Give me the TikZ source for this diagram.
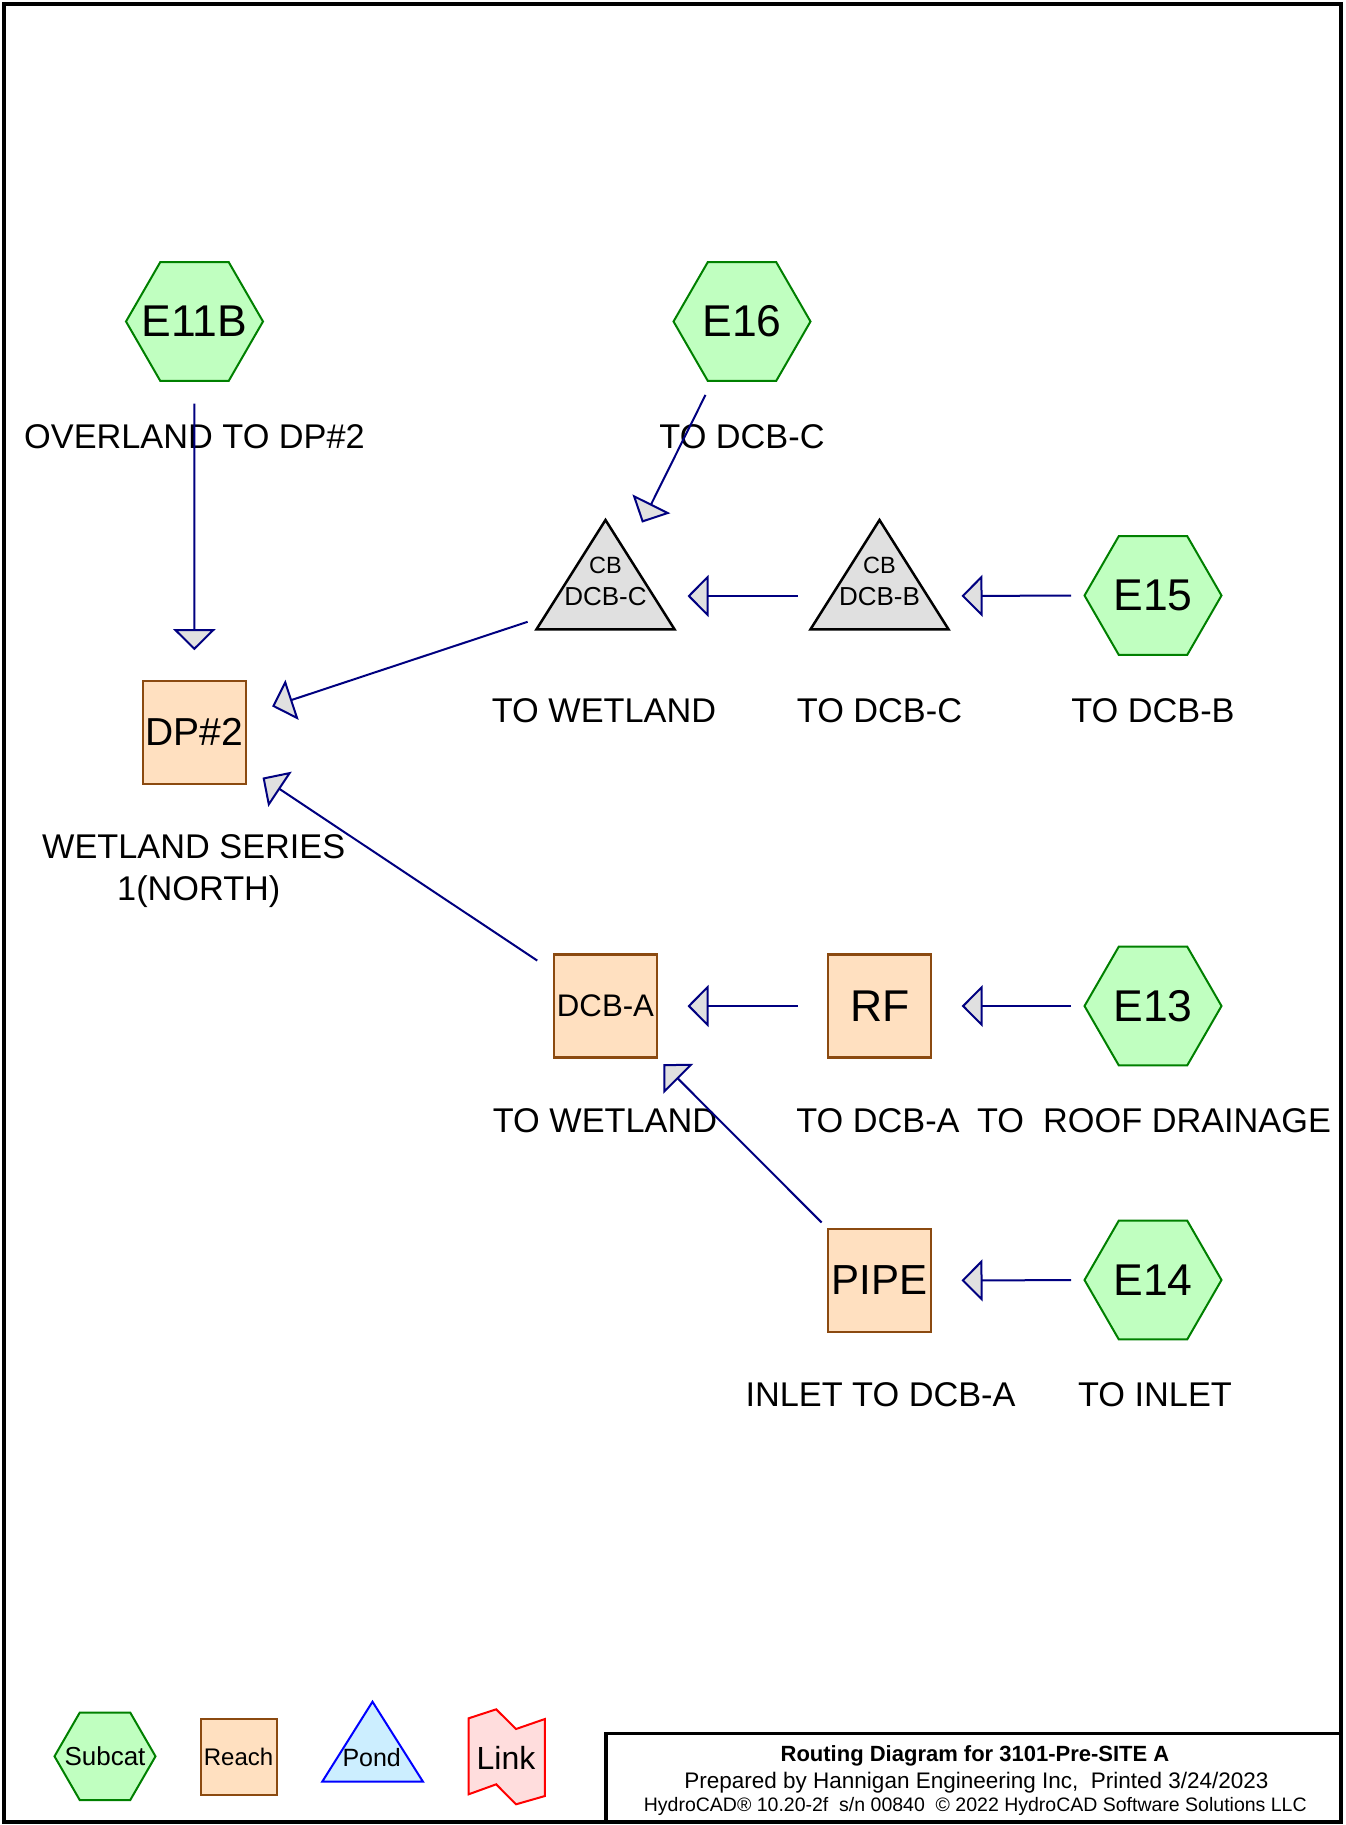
\documentclass[tikz,border=0pt]{standalone}
\usepackage{fontspec}
\setmainfont{Liberation Sans}
\usetikzlibrary{shapes.geometric,arrows.meta}
\definecolor{subfill}{HTML}{C0FFC0}
\definecolor{substroke}{HTML}{008000}
\definecolor{reachfill}{HTML}{FFE0C0}
\definecolor{reachstroke}{HTML}{8B4A10}
\definecolor{cbfill}{HTML}{E0E0E0}
\definecolor{flowcol}{HTML}{000080}
\definecolor{pondfill}{HTML}{CCEEFF}
\definecolor{pondstroke}{HTML}{0000FF}
\definecolor{linkfill}{HTML}{FFDDDD}
\definecolor{linkstroke}{HTML}{FF0000}
\newcommand\fs[1]{\fontsize{#1}{#1}\selectfont}
\newcommand\zb[1]{\makebox[0pt]{#1}}
\begin{document}
\begin{tikzpicture}[x=1pt,y=-1pt,
  subcat/.style={regular polygon, regular polygon sides=6, minimum size=137pt, inner sep=0pt, fill=subfill, draw=substroke, line width=2pt, font=\fs{44.5}},
  reach/.style={rectangle, minimum width=103pt, minimum height=103pt, inner sep=0pt, fill=reachfill, draw=reachstroke, line width=2.2pt},
  lbl/.style={anchor=base, inner sep=0pt, font=\fs{34.3}},
  txt/.style={inner sep=0pt},
  flow/.style={draw=flowcol, line width=2pt, shorten <=82pt, shorten >=82pt, -{Triangle[length=21pt,width=42pt,fill=cbfill]}},
  cb/.style={fill=cbfill, draw=black, line width=2.5pt, line join=miter},
]
\useasboundingbox (0,0) rectangle (1345,1825);
\fill[white] (0,0) rectangle (1345,1825);
% frame and title block
\draw[line width=4.5pt] (4,4) rectangle (1341,1822);
\draw[line width=3.5pt] (606,1822) -- (606,1733.5) -- (1341,1733.5);

% subcatchments
\node[subcat] (e11b) at (194.5,321.5) {\zb{E11B}};
\node[subcat] (e16) at (742,321.5) {\zb{E16}};
\node[subcat] (e15) at (1153,595.5) {\zb{E15}};
\node[subcat] (e13) at (1153,1006) {\zb{E13}};
\node[subcat] (e14) at (1153,1280) {\zb{E14}};

% reaches
\node[reach, font=\fs{39}] (dp2) at (194.3,732.2) {DP\#2};
\node[reach, font=\fs{31.2}] (dcba) at (605.5,1006) {DCB-A};
\node[reach, font=\fs{44.5}] (rf) at (879.7,1006) {RF};
\node[reach, font=\fs{42}] (pipe) at (879.5,1280.5) {PIPE};

% catch basins (triangles)
\coordinate (dcbc) at (605.5,596);
\coordinate (dcbb) at (879.5,596);
\foreach \c in {dcbc,dcbb}
  \draw[cb] ([shift={(0,-76)}]\c) -- ([shift={(-69,33.3)}]\c) -- ([shift={(69,33.3)}]\c) -- cycle;
\node[txt, font=\fs{23.5}] (dcbccb) at ([shift={(0,-31)}]dcbc) {CB};
\node[txt, font=\fs{26}] (dcbctx) at ([shift={(0,1)}]dcbc) {DCB-C};
\node[txt, font=\fs{23.5}] (dcbbcb) at ([shift={(0,-31)}]dcbb) {CB};
\node[txt, font=\fs{26}] (dcbbtx) at ([shift={(0,1)}]dcbb) {DCB-B};

% labels
\node[lbl] (le11b) at (194.5,448) {OVERLAND TO DP\#2};
\node[lbl] (le16) at (742,448) {TO DCB-C};
\node[lbl] (ldcbc) at (604,722) {TO WETLAND};
\node[lbl] (ldcbb) at (879.5,722) {TO DCB-C};
\node[lbl] (le15) at (1153,722) {TO DCB-B};
\node[lbl] (ldp2a) at (193.7,858.7) {WETLAND SERIES};
\node[lbl] (ldp2b) at (198.8,900.3) {1(NORTH)};
\node[lbl] (ldcba) at (605,1132.5) {TO WETLAND};
\node[lbl] (lrf) at (878,1132.5) {TO DCB-A};
\node[lbl] (le13) at (1154,1132.5) {TO~~ROOF DRAINAGE};
\node[lbl] (lpipe) at (880.5,1406.7) {INLET TO DCB-A};
\node[lbl] (le14) at (1155,1406.7) {TO INLET};

% connectors
\draw[flow] (e11b.center) -- (dp2.center);
\draw[flow] (e16.center) -- (dcbc);
\draw[flow] (dcbc) -- (dp2.center);
\draw[flow] (dcbb) -- (dcbc);
\draw[flow] (e15.center) -- (dcbb);
\draw[flow] (dcba.center) -- (dp2.center);
\draw[flow] (rf.center) -- (dcba.center);
\draw[flow] (e13.center) -- (rf.center);
\draw[flow] (pipe.center) -- (dcba.center);
\draw[flow] (e14.center) -- (pipe.center);

% legend
\node[regular polygon, regular polygon sides=6, minimum size=101pt, inner sep=0pt, fill=subfill, draw=substroke, line width=2pt, font=\fs{26}] (legsub) at (105,1756.3) {\zb{Subcat}};
\node[reach, minimum width=76pt, minimum height=76pt, line width=2pt, font=\fs{24}] (legreach) at (238.6,1757) {Reach};
\coordinate (legpond) at (372.5,1758);
\draw[fill=pondfill, draw=pondstroke, line width=2pt, line join=miter] ([shift={(0,-56.3)}]legpond) -- ([shift={(-50.3,23.7)}]legpond) -- ([shift={(50.5,23.7)}]legpond) -- cycle;
\node[txt, font=\fs{25}] (legpondtx) at ([shift={(-0.8,0)}]legpond) {Pond};
\coordinate (leglink) at (506.7,1757);
\draw[fill=linkfill, draw=linkstroke, line width=2pt] ([shift={(-38.1,-38.7)}]leglink) -- ([shift={(-10.5,-47.7)}]leglink) -- ([shift={(9.3,-28)}]leglink) -- ([shift={(38.2,-38)}]leglink) -- ([shift={(38.2,39)}]leglink) -- ([shift={(9.3,47.3)}]leglink) -- ([shift={(-10.5,27.3)}]leglink) -- ([shift={(-38.1,37.3)}]leglink) -- cycle;
\node[txt, font=\fs{32}] (leglinktx) at ([shift={(-0.7,1)}]leglink) {Link};

% title block text
\node[anchor=base, inner sep=0pt, font=\bfseries\fs{22}] (t1) at (975,1761.2) {Routing Diagram for 3101-Pre-SITE A};
\node[anchor=base, inner sep=0pt, font=\fs{22.5}] (t2) at (976.5,1788.2) {Prepared by Hannigan Engineering Inc,~~Printed 3/24/2023};
\node[anchor=base, inner sep=0pt, font=\fs{19.5}] (t3) at (975.3,1811) {HydroCAD® 10.20-2f~~s/n 00840~~© 2022 HydroCAD Software Solutions LLC};
\end{tikzpicture}
\end{document}
